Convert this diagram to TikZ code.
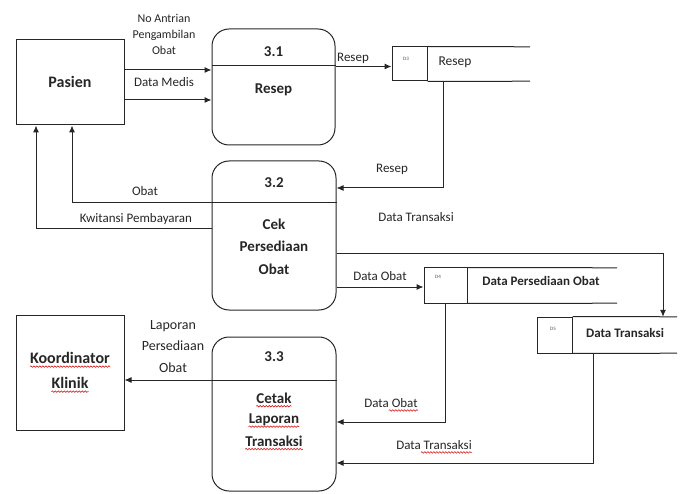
\documentclass[tikz,border=0pt]{standalone}
\usepackage{fontspec}
\setmainfont{Carlito}
\usetikzlibrary{arrows.meta,calc,decorations.pathmorphing}
\begin{document}
\begin{tikzpicture}[x=1pt,y=-1pt,
  ln/.style={draw=black!85, line width=1pt},
  arr/.style={ln, -{Latex[length=7pt,width=6pt]}},
  ent/.style={draw=black!85, line width=1pt, inner sep=0pt},
  proc/.style={draw=black!85, line width=1pt, rounded corners=17pt, inner sep=0pt},
  idbox/.style={draw=black!85, line width=1pt, inner sep=0pt},
  openbox/.style={inner sep=0pt},
  lbl/.style={font=\fontsize{13}{16}\selectfont, inner sep=1pt, text=black!85},
  smalllbl/.style={font=\fontsize{12}{16}\selectfont, inner sep=1pt, align=center, text=black!85},
  ptxt/.style={font=\bfseries\fontsize{15}{18}\selectfont, inner sep=1pt, text=black!85},
  etxt/.style={font=\bfseries\fontsize{16}{19}\selectfont, inner sep=1pt, text=black!85},
  dtxt/.style={font=\fontsize{5}{6}\selectfont, inner sep=0pt, text=black!70},
  squig/.style={draw=red!80!black, line width=0.5pt, decorate, decoration={snake, amplitude=0.8pt, segment length=3pt}},
]
\useasboundingbox (0,0) rectangle (685,494);

% entities
\node[ent, minimum width=108pt, minimum height=85pt] (pasien) at (70,82.5) {};
\node[etxt] (pasientxt) at (70,82) {Pasien};
\node[ent, minimum width=108pt, minimum height=115pt] (koord) at (70,372.5) {};
\node[etxt] (koord1) at (70,358) {Koordinator};
\node[etxt] (koord2) at (70,383) {Klinik};

% processes
\node[proc, minimum width=123pt, minimum height=116pt] (p31) at (273.5,87) {};
\draw[ln] (p31.west |- 0,66) -- (p31.east |- 0,66);
\node[ptxt] (p31id) at (273.5,52) {3.1};
\node[ptxt] (p31nm) at (273.5,90) {Resep};

\node[proc, minimum width=124pt, minimum height=149pt] (p32) at (274,235.5) {};
\draw[ln] (p32.west |- 0,203) -- (p32.east |- 0,203);
\node[ptxt] (p32id) at (274,183) {3.2};
\node[ptxt] (p32a) at (274,224) {Cek};
\node[ptxt] (p32b) at (274,246) {Persediaan};
\node[ptxt] (p32c) at (274,269) {Obat};

\node[proc, minimum width=124pt, minimum height=154pt] (p33) at (274,414) {};
\draw[ln] (p33.west |- 0,380) -- (p33.east |- 0,380);
\node[ptxt] (p33id) at (274,357) {3.3};
\node[ptxt] (p33a) at (274,398) {Cetak};
\node[ptxt] (p33b) at (274,420) {Laporan};
\node[ptxt] (p33c) at (274,441) {Transaksi};

% data stores
\node[idbox, minimum width=35pt, minimum height=34pt] (d3) at (409.5,64) {};
\node[dtxt] (d3id) at (406,59) {D3};
\node[openbox, minimum width=103pt, minimum height=34pt] (d3t) at (478.5,64) {};
\draw[ln] (d3.north east) -- (d3t.north east);
\draw[ln] (d3.south east) -- (d3t.south east);
\node[font=\fontsize{13.5}{16}\selectfont, text=black!85] (d3nm) at (455,62) {Resep};

\node[idbox, minimum width=43pt, minimum height=35pt] (d4) at (445.5,285.5) {};
\node[dtxt] (d4id) at (438,277) {D4};
\node[openbox, minimum width=150pt, minimum height=35pt] (d4t) at (542,285.5) {};
\draw[ln] (d4.north east) -- (d4t.north east);
\draw[ln] (d4.south east) -- (d4t.south east);
\node[font=\bfseries\fontsize{13}{16}\selectfont, text=black!85] (d4nm) at (541,281) {Data Persediaan Obat};

\node[idbox, minimum width=35pt, minimum height=36pt] (d5) at (554.5,335) {};
\node[dtxt] (d5id) at (553,329) {D5};
\node[openbox, minimum width=105pt, minimum height=36pt] (d5t) at (624.5,335) {};
\draw[ln] (d5.north east) -- (d5t.north east);
\draw[ln] (d5.south east) -- (d5t.south east);
\node[font=\bfseries\fontsize{13}{16}\selectfont, text=black!85] (d5nm) at (625,333) {Data Transaksi};

% flows
\draw[arr] (pasien.east |- 0,70) -- (p31.west |- 0,70);
\draw[arr] (pasien.east |- 0,100) -- (p31.west |- 0,100);
\node[smalllbl] (l1) at (164,34) {No Antrian\\Pengambilan\\Obat};
\node[lbl] (l2) at (164,82) {Data Medis};

\draw[arr] (p31.east |- 0,66.5) -- (d3.west |- 0,66.5);
\node[lbl] (l3) at (353,58) {Resep};

\draw[arr] (d3t.south -| 443,0) |- (p32.east |- 0,188);
\node[lbl] (l4) at (392,169) {Resep};

\draw[arr] (p32.west |- 0,203) -| (pasien.south -| 72,0);
\node[lbl] (l5) at (145,191) {Obat};
\draw[arr] (p32.west |- 0,229) -| (pasien.south -| 36,0);
\node[lbl] (l6) at (136,219) {Kwitansi Pembayaran};

\draw[arr] (p32.east |- 0,254) -| (d5t.north -| 663,0);
\node[lbl] (l7) at (416,217) {Data Transaksi};

\draw[arr] (p32.east |- 0,287) -- (d4.west |- 0,287);
\node[lbl] (l8) at (380,276) {Data Obat};

\draw[arr] (d4.south -| 445,0) |- (p33.east |- 0,422);
\node[lbl] (l9) at (391,403) {Data Obat};

\draw[arr] (d5t.south -| 593,0) |- (p33.east |- 0,463);
\node[lbl] (l10) at (434,445) {Data Transaksi};

\draw[arr] (p33.west |- 0,380) -- (koord.east |- 0,380);
\node[lbl, align=center, font=\fontsize{14}{21.5}\selectfont] (l11) at (173,346.5) {Laporan\\Persediaan\\Obat};

% spell-check marks
\foreach \n in {koord1,koord2,p33a,p33b,p33c}{
  \draw[squig] ($(\n.base west)+(1,3)$) -- ($(\n.base east)+(-1,3)$);
}
\draw[squig] ($(l9.base east)+(-30,3)$) -- ($(l9.base east)+(-1,3)$);
\draw[squig] ($(l10.base east)+(-52,3)$) -- ($(l10.base east)+(-1,3)$);
\end{tikzpicture}
\end{document}
